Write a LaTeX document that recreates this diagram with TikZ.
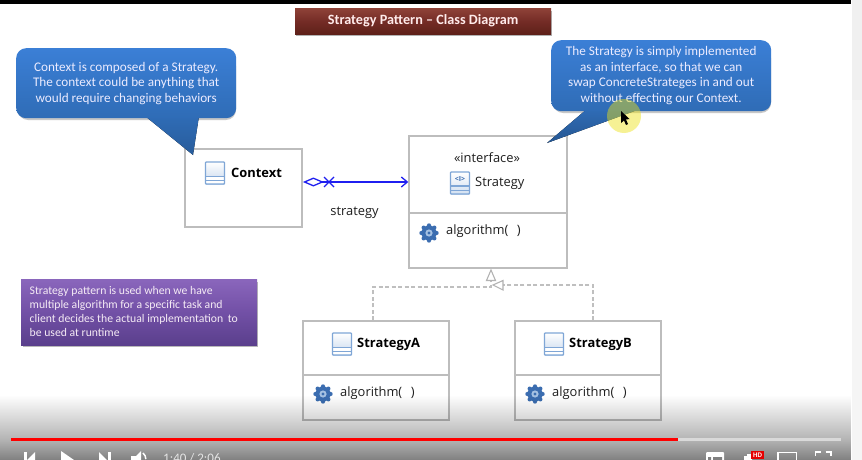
\documentclass[tikz,border=0pt]{standalone}
\usepackage{fontspec}
\setmainfont{Carlito}
\newfontfamily\umlfont{Open Sans}
\usetikzlibrary{arrows.meta,fadings,calc}
\definecolor{iconblue}{HTML}{7FA6D6}
\definecolor{boxgray}{HTML}{BDBDBD}
\definecolor{umlblue}{HTML}{1F1FF0}
\definecolor{gearblue}{HTML}{3B6DB0}
\definecolor{blue1}{HTML}{3B7FD6}
\definecolor{blue2}{HTML}{2F6CB6}
\definecolor{titletop}{HTML}{8F4238}
\definecolor{titlemid}{HTML}{742C26}
\definecolor{titlebot}{HTML}{5E2019}
\definecolor{notetop}{HTML}{8A66BC}
\definecolor{notemid}{HTML}{7250A6}
\definecolor{notebot}{HTML}{5A3F8C}
\tikzfading[name=barfadeA, top color=transparent!100, bottom color=transparent!70]
\tikzfading[name=barfadeB, top color=transparent!70, bottom color=transparent!50]
\tikzset{
  x=1pt,y=-1pt,
  classbox/.style={draw=boxgray,line width=1.6pt,fill=white,inner sep=0pt,anchor=north west},
  dividerline/.style={draw=boxgray,line width=1.4pt},
  umllabel/.style={font=\umlfont\fontsize{12.9}{14}\selectfont,text=black!88,inner sep=0pt},
  umlbold/.style={font=\umlfont\bfseries\fontsize{12.9}{14}\selectfont,text=black,inner sep=0pt},
  bluebody/.style={rounded corners=10pt,top color=blue1,bottom color=blue2,inner sep=0pt,anchor=north west,
     text=white!92!blue,align=center,font=\fontsize{13.2}{15.5}\selectfont},
  softshadow/.style={fill=black!22,rounded corners=10pt},
  realize/.style={draw=black!25,line width=1.2pt,dashed,dash pattern=on 4pt off 2.5pt},
  openhead/.style={draw=black!30,fill=white,line width=1.1pt},
  ctrl/.style={fill=white,draw=none},
  pics/classicon/.style={code={
    \fill[top color=white,bottom color=iconblue!45] (-9.5,-11) rectangle (9.5,11);
    \fill[white] (-9,3) rectangle (9,11);
    \draw[iconblue,line width=1.2pt,rounded corners=.8pt] (-9.5,-11) rectangle (9.5,11);
    \draw[iconblue,line width=1.2pt] (-9.5,3.5) -- (9.5,3.5) (-9.5,7.5) -- (9.5,7.5);
  }},
  pics/ifaceicon/.style={code={
    \fill[top color=white,bottom color=iconblue!35] (-9.5,-11) rectangle (9.5,11);
    \draw[iconblue,line width=1.2pt,rounded corners=.8pt] (-9.5,-11) rectangle (9.5,11);
    \draw[iconblue,line width=1.2pt] (-9.5,3) -- (9.5,3) (-9.5,7.5) -- (9.5,7.5);
    \node[inner sep=0pt,text=gearblue,font=\umlfont\bfseries\fontsize{7}{7}\selectfont] at (0,-4) {<I>};
  }},
  pics/gearicon/.style={code={
    \foreach \a in {0,45,...,315}{\fill[gearblue] (\a:7.6) circle (2.1);}
    \fill[gearblue] (0,0) circle (7.6);
    \fill[iconblue!70] (0,0) circle (3.6);
    \fill[gearblue] (0,0) circle (1.6);
  }}
}
\begin{document}
\begin{tikzpicture}
\useasboundingbox (0,0) rectangle (862,460);
\clip (0,0) rectangle (862,460);
\fill[white] (0,0) rectangle (862,460);
% right-hand strip and top bar
\fill[black!6] (852,0) rectangle (862,100);
\fill[black!4] (852,100) rectangle (862,460);
\fill[black] (0,0) rectangle (851,4);
% title
\fill[black!30] (296,11) rectangle (552,36);
\node[anchor=north west,minimum width=256pt,minimum height=26pt,inner sep=0pt,
  top color=titletop,bottom color=titlebot,middle color=titlemid,
  text=white!92!red,font=\bfseries\fontsize{14.2}{16}\selectfont] (title) at (295,8) {Strategy Pattern -- Class Diagram};
% classes
\node[classbox,minimum width=117pt,minimum height=78pt] (context) at (184.3,148.3) {};
\node[classbox,minimum width=158pt,minimum height=132pt] (strategy) at (408.3,135.3) {};
\node[classbox,minimum width=146pt,minimum height=99pt] (stratA) at (302.3,320.3) {};
\node[classbox,minimum width=146pt,minimum height=99pt] (stratB) at (514.3,320.3) {};
\draw[dividerline] (strategy.west |- 0,213) -- (strategy.east |- 0,213);
\draw[dividerline] (stratA.west |- 0,375) -- (stratA.east |- 0,375);
\draw[dividerline] (stratB.west |- 0,375) -- (stratB.east |- 0,375);
% class contents
\pic at (215,173) {classicon};
\node[umlbold,anchor=west] (contextlabel) at (231,172.5) {Context};
\node[umllabel] (stereo) at (487,157.5) {«interface»};
\pic at (460,183) {ifaceicon};
\node[umllabel,anchor=west] (stratlabel) at (475,183.5) {Strategy};
\pic at (429,233) {gearicon};
\node[umllabel,anchor=west] (algo) at (446,231.5) {algorithm(\,\,\,\,)};
\pic at (342,344) {classicon};
\node[umlbold,anchor=west] (alabel) at (357,344.5) {StrategyA};
\pic at (323,394) {gearicon};
\node[umllabel,anchor=west] (algoa) at (340,393.5) {algorithm(\,\,\,\,)};
\pic at (554,344) {classicon};
\node[umlbold,anchor=west] (blabel) at (569,344.5) {StrategyB};
\pic at (535,394) {gearicon};
\node[umllabel,anchor=west] (algob) at (552,393.5) {algorithm(\,\,\,\,)};
% association
\coordinate (assocstart) at (context.east |- 0,182);
\coordinate (assocend) at (strategy.west |- 0,182);
\draw[umlblue,line width=1.3pt,{Diamond[open,length=21pt,width=9pt,line width=1.3pt]}-{Straight Barb[length=6pt,width=10pt,line width=1.3pt]}] (assocstart) -- (assocend);
\coordinate (xmark) at (329,182);
\draw[umlblue,line width=1.3pt] ($(xmark)+(-5,-5)$) -- ($(xmark)+(5,5)$) ($(xmark)+(-5,5)$) -- ($(xmark)+(5,-5)$);
\node[umllabel] (assoclabel) at (354.5,212.5) {strategy};
% realisations
\coordinate (ifaceA) at (491,287);
\coordinate (ifaceB) at (497,285);
\draw[realize] (stratA.north -| 373,0) -- (373,287) -- (ifaceA) -- (491,281);
\draw[realize] (stratB.north -| 593,0) -- (593,285) -- (ifaceB);
\draw[openhead] (491,270) -- (486.5,280.5) -- (495.5,280.5) -- cycle;
\draw[openhead] (493,285) -- (503,280.5) -- (503,290) -- cycle;
% left callout
\fill[softshadow] (18,56) rectangle (236,120);
\fill[top color=blue2,bottom color=blue2!85!black] (145,116) -- (199,116) -- (193,155) -- cycle;
\node[bluebody,minimum width=220pt,minimum height=70pt] (calloutA) at (16,48)
  {Context is composed of a Strategy.\\The context could be anything that\\would require changing behaviors};
% right callout
\fill[softshadow] (553,48) rectangle (771,113);
\fill[top color=blue2,bottom color=blue2!80!black] (587,109) -- (640,109) -- (547,143) -- cycle;
\node[bluebody,minimum width=220pt,minimum height=71pt] (calloutB) at (551,40)
  {The Strategy is simply implemented\\as an interface, so that we can\\swap ConcreteStrateges in and out\\without effecting our Context.};
% purple note
\fill[black!28] (23,282) rectangle (258,347);
\node[anchor=north west,minimum width=236pt,minimum height=66pt,inner sep=0pt,
  top color=notetop,bottom color=notebot,middle color=notemid] (note) at (21,279) {};
\node[anchor=west,inner sep=0pt,text=white!92!violet,align=left,font=\fontsize{11.7}{14.3}\selectfont] (notetext) at (29.5,311.5)
  {Strategy pattern is used when we have\\multiple algorithm for a specific task and\\client decides the actual implementation\, to\\be used at runtime};
% mouse highlight
\fill[yellow!92!black,opacity=.45] (624,116) circle (17);
\fill[black] (621,111) -- (621,123) -- (624,120.5) -- (626,125) -- (628,124) -- (626,119.5) -- (629.5,119) -- cycle;
% player gradient
\fill[black,path fading=barfadeA] (0,395) rectangle (852,440);
\fill[black,path fading=barfadeB] (0,440) rectangle (852,460);
% progress bar
\fill[black!15] (11,437.5) rectangle (841,441);
\fill[red] (11,437.5) rectangle (678,441);
% player controls
\fill[ctrl] (24,452) rectangle (26.5,460);
\fill[ctrl] (35,452) -- (35,460) -- (27,460) -- cycle;
\fill[ctrl] (61,451) -- (74,460) -- (61,460) -- cycle;
\fill[ctrl] (99,452) -- (107,460) -- (99,460) -- cycle;
\fill[ctrl] (108,452) rectangle (110.5,460);
\fill[ctrl] (131,456) -- (136,456) -- (141,451) -- (141,460) -- (131,460) -- cycle;
\draw[white,line width=1.5pt] (143,453) arc (-50:0:8);
\node[anchor=west,inner sep=0pt,text=white!90!black,font=\fontsize{13}{14}\selectfont] (timer) at (163,458) {1:40 / 2:06};
\fill[ctrl,rounded corners=1pt] (706,452) rectangle (724,462);
\fill[black!50] (708,457) rectangle (711,460) (713,457) rectangle (722,460);
\fill[ctrl] (744,456) rectangle (750,460) (747,454) rectangle (752,460);
\fill[red!90!black] (751,451) rectangle (764,459);
\node[inner sep=0pt,text=white,font=\bfseries\fontsize{7}{7}\selectfont] (hd) at (757.5,455) {HD};
\draw[white,line width=1.6pt] (778,461) -- (778,452.5) -- (796.5,452.5) -- (796.5,461);
\draw[white,line width=1.6pt] (815.5,456) -- (815.5,452) -- (821,452) (825.5,452) -- (831,452) -- (831,456);
\end{tikzpicture}
\end{document}
